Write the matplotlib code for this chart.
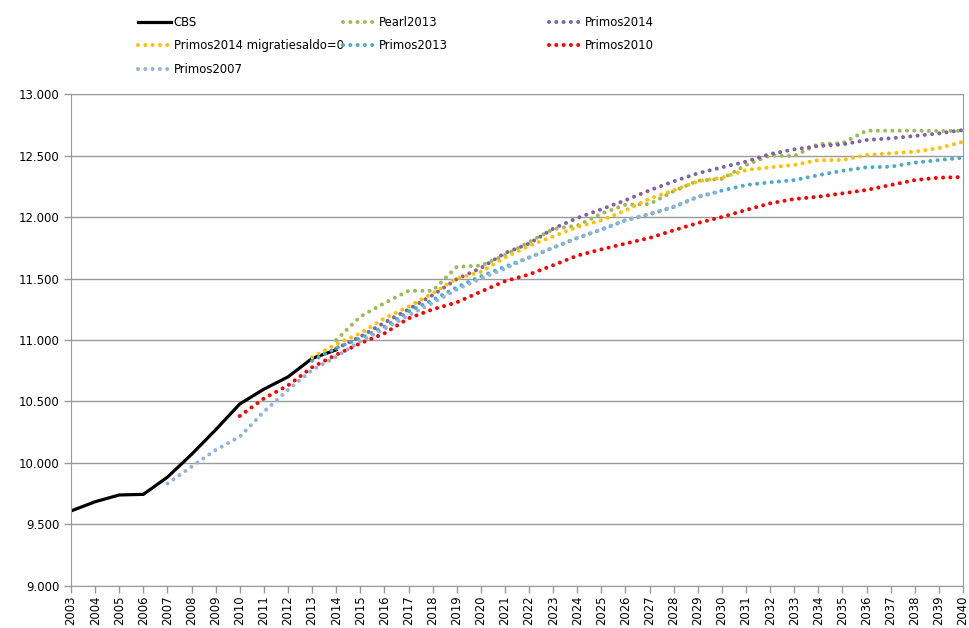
import matplotlib.pyplot as plt
from matplotlib.ticker import FuncFormatter, MultipleLocator

plt.rcParams['font.family'] = ['DejaVu Sans']

years = list(range(2003, 2041))

cbs_years = list(range(2003, 2015))
cbs = [9610, 9685, 9740, 9745, 9885, 10070, 10270, 10480, 10600, 10700, 10850, 10920]

pearl_years = list(range(2014, 2041))
pearl = [11000, 11190, 11300, 11400, 11400, 11595, 11605, 11690, 11797, 11902, 11930, 12027,
         12100, 12105, 12210, 12295, 12310, 12423, 12500, 12496, 12593, 12600, 12702, 12702,
         12702, 12700, 12700]

p2014_years = list(range(2014, 2041))
p2014 = [10930, 11027, 11141, 11249, 11365, 11495, 11585, 11707, 11784, 11905, 11992, 12063,
         12136, 12217, 12290, 12355, 12404, 12450, 12512, 12550, 12577, 12590, 12626, 12640,
         12659, 12680, 12707]

p2014m0_years = list(range(2013, 2041))
p2014m0 = [10860, 10967, 11054, 11176, 11271, 11380, 11500, 11554, 11670, 11766, 11843, 11919,
           11973, 12054, 12149, 12217, 12290, 12320, 12382, 12404, 12423, 12463, 12463, 12504,
           12518, 12531, 12560, 12612]

p2013_years = list(range(2013, 2041))
p2013 = [10830, 10935, 11014, 11108, 11230, 11325, 11428, 11518, 11595, 11670, 11751, 11829,
         11897, 11973, 12022, 12081, 12163, 12215, 12260, 12282, 12300, 12340, 12376, 12404,
         12409, 12442, 12463, 12482]

p2010_years = list(range(2010, 2041))
p2010 = [10382, 10525, 10630, 10778, 10880, 10973, 11054, 11176, 11249, 11306, 11393, 11478,
         11533, 11608, 11686, 11737, 11784, 11830, 11892, 11951, 12000, 12057, 12111, 12146,
         12165, 12192, 12220, 12260, 12300, 12320, 12325]

p2007_years = list(range(2007, 2031))
p2007 = [9833, 9970, 10106, 10214, 10417, 10594, 10756, 10864, 10990, 11090, 11200, 11300,
         11410, 11500, 11580, 11670, 11750, 11830, 11900, 11975, 12025, 12085, 12165, 12210]

fig = plt.figure(figsize=(9.69, 6.28), dpi=100)
ax = fig.add_axes([0.0733, 0.0669, 0.9205, 0.7834])

dot = dict(linestyle=(0, (0.01, 1.8)), dash_capstyle='round', linewidth=2.9)

h_cbs, = ax.plot(cbs_years, cbs, color='black', linewidth=2.3, label='CBS')
h_pearl, = ax.plot(pearl_years, pearl, color='#9BBB59', label='Pearl2013', **dot)
h_p14, = ax.plot(p2014_years, p2014, color='#8064A2', label='Primos2014', **dot)
h_p14m0, = ax.plot(p2014m0_years, p2014m0, color='#FFC000', label='Primos2014 migratiesaldo=0', **dot)
h_p13, = ax.plot(p2013_years, p2013, color='#4BACC6', label='Primos2013', **dot)
h_p10, = ax.plot(p2010_years, p2010, color='#FF0000', label='Primos2010', **dot)
h_p07, = ax.plot(p2007_years, p2007, color='#95B3D7', label='Primos2007', **dot)

ax.set_xlim(2003, 2040)
ax.set_ylim(9000, 13000)
ax.yaxis.set_major_locator(MultipleLocator(500))
ax.yaxis.set_major_formatter(FuncFormatter(lambda v, p: f"{int(v):,}".replace(",", ".")))
ax.set_xticks(years)
ax.set_xticklabels([str(y) for y in years], rotation=90)

ax.grid(axis='y', color='#9a9a9a', linewidth=1.0)
ax.set_axisbelow(True)
for s in ax.spines.values():
    s.set_color('#9a9a9a')
ax.tick_params(axis='both', colors='#9a9a9a', labelcolor='black', labelsize=8.4, length=5, width=1)
ax.tick_params(axis='x', pad=2)

# legend as three columns, placed like the Excel legend
columns = [([h_cbs, h_p14m0, h_p07], 0.1424),
           ([h_pearl, h_p13], 0.354),
           ([h_p14, h_p10], 0.5666)]
for handles, x in columns:
    fig.legend(handles=handles, loc='upper left', bbox_to_anchor=(x, 0.975), frameon=False,
               fontsize=8.4, handlelength=2.8, handletextpad=0.25, labelspacing=0.9,
               borderpad=0, borderaxespad=0)

fig.savefig('out.png', dpi=100)
